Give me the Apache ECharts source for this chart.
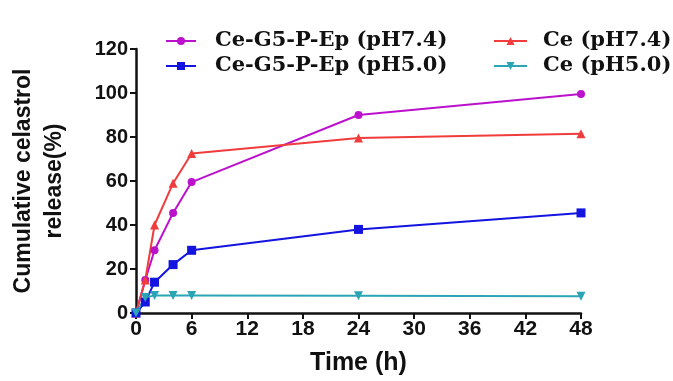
<!DOCTYPE html>
<html>
<head>
<meta charset="utf-8">
<script src="https://cdn.jsdelivr.net/npm/echarts@6/dist/echarts.min.js"></script>
<style>
html,body{margin:0;padding:0;background:#fff;}
#chart{width:673px;height:381px;}
</style>
</head>
<body>
<div id="chart"></div>
<script>
var times = [0, 1, 2, 4, 6, 24, 48];
var nameA = 'Ce-G5-P-Ep (pH7.4)';
var nameB = 'Ce-G5-P-Ep (pH5.0)';
var nameC = 'Ce (pH7.4)';
var nameD = 'Ce (pH5.0)';
var valsA = [0, 15, 28.5, 45.5, 59.5, 90, 99.5];
var valsB = [0, 5, 14, 22, 28.5, 38, 45.5];
var valsC = [0, 15, 40, 59, 72.5, 79.5, 81.5];
var valsD = [0, 7, 8, 8, 8, 7.8, 7.6];
var xTicks = [0, 6, 12, 18, 24, 30, 36, 42, 48];
var yTicks = [0, 20, 40, 60, 80, 100, 120];

function pairs(v) { return times.map(function (t, i) { return [t, v[i]]; }); }

var chart = echarts.init(document.getElementById('chart'));
var axisCommon = {
  axisLine: { show: true, lineStyle: { color: '#111', width: 2.5 } },
  axisTick: { show: true, inside: false, length: 6, lineStyle: { color: '#111', width: 2 } },
  splitLine: { show: false },
  axisLabel: { color: '#111', fontFamily: 'Liberation Sans', fontWeight: 'bold', fontSize: 20 }
};
var legendText = { fontFamily: 'DejaVu Serif', fontWeight: 'bold', fontSize: 21, color: '#111', lineHeight: 24 };
function mkSeries(name, vals, color, symbol, size, rot) {
  return {
    name: name, type: 'line', data: pairs(vals),
    symbol: symbol, symbolSize: size, symbolRotate: rot || 0,
    lineStyle: { color: color, width: 2 },
    itemStyle: { color: color },
    animation: false
  };
}
chart.setOption({
  backgroundColor: '#fff',
  animation: false,
  grid: { left: 134, right: 92, top: 49, bottom: 68 },
  legend: [
    { left: 160, top: 24, orient: 'vertical', itemWidth: 30, itemHeight: 10, itemGap: 1,
      data: [nameA, nameB], textStyle: Object.assign({ padding: [0, 0, 0, 14] }, legendText) },
    { left: 488, top: 24, orient: 'vertical', itemWidth: 33, itemHeight: 10, itemGap: 1,
      data: [nameC, nameD], textStyle: Object.assign({ padding: [0, 0, 0, 11] }, legendText) }
  ],
  xAxis: Object.assign({}, axisCommon, {
    type: 'value', min: xTicks[0], max: xTicks[xTicks.length - 1], interval: 6,
    name: 'Time (h)', nameLocation: 'middle', nameGap: 38,
    nameTextStyle: { color: '#111', fontFamily: 'Liberation Sans', fontWeight: 'bold', fontSize: 25 },
    axisLabel: Object.assign({}, axisCommon.axisLabel, { margin: 6, fontSize: 21 })
  }),
  yAxis: Object.assign({}, axisCommon, {
    type: 'value', min: yTicks[0], max: yTicks[yTicks.length - 1], interval: 20,
    name: 'Cumulative celastrol\nrelease(%)', nameLocation: 'middle', nameGap: 66, nameRotate: 90,
    nameTextStyle: { color: '#111', fontFamily: 'Liberation Sans', fontWeight: 'bold', fontSize: 23, lineHeight: 31 },
    axisLabel: Object.assign({}, axisCommon.axisLabel, { margin: 8 })
  }),
  series: [
    mkSeries(nameA, valsA, '#bb11cc', 'circle', 8),
    mkSeries(nameC, valsC, '#f03c3c', 'triangle', 9),
    mkSeries(nameB, valsB, '#1414e0', 'rect', 9),
    mkSeries(nameD, valsD, '#2ba5b5', 'triangle', 9, 180)
  ]
});
</script>
</body>
</html>
